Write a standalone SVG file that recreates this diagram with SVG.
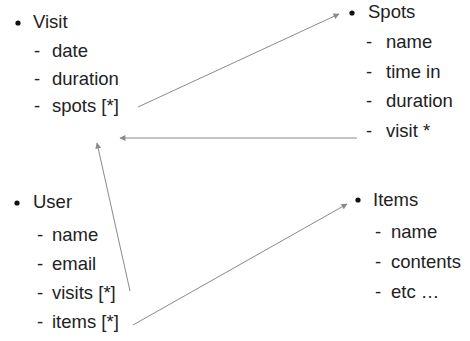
<svg xmlns="http://www.w3.org/2000/svg" width="470" height="341" viewBox="0 0 470 341">
<defs>
<style>
text{font-family:"Liberation Sans",Arial,sans-serif;font-size:18.5px;fill:#222;}
.b{fill:#111;}
.c{stroke:#8a8a8a;stroke-width:1;fill:none;marker-end:url(#ah);}
</style>
<marker id="ah" viewBox="0 0 10 10" refX="9" refY="5" markerWidth="7" markerHeight="6" markerUnits="userSpaceOnUse" orient="auto">
<path d="M0,0 L10,5 L0,10 z" fill="#8a8a8a"/>
</marker>
</defs>
<rect width="470" height="341" fill="#fff"/>
<g id="visit">
<circle class="b" cx="18" cy="23" r="2.6"/>
<text x="33" y="28">Visit</text>
<text x="34" y="57">-</text><text x="52" y="57">date</text>
<text x="34" y="85">-</text><text x="52" y="85">duration</text>
<text x="34" y="112">-</text><text x="52" y="112">spots [*]</text>
</g>
<g id="spots">
<circle class="b" cx="352" cy="13" r="2.6"/>
<text x="368" y="18">Spots</text>
<text x="366" y="48">-</text><text x="386" y="48">name</text>
<text x="366" y="78">-</text><text x="386" y="78">time in</text>
<text x="366" y="107">-</text><text x="386" y="107">duration</text>
<text x="366" y="137">-</text><text x="386" y="137">visit *</text>
</g>
<g id="user">
<circle class="b" cx="17" cy="203" r="2.6"/>
<text x="33" y="208">User</text>
<text x="37" y="241">-</text><text x="52" y="241">name</text>
<text x="37" y="270">-</text><text x="52" y="270">email</text>
<text x="37" y="299">-</text><text x="52" y="299">visits [*]</text>
<text x="37" y="328">-</text><text x="52" y="328">items [*]</text>
</g>
<g id="items">
<circle class="b" cx="358" cy="200" r="2.6"/>
<text x="373" y="206">Items</text>
<text x="375" y="238">-</text><text x="391" y="238">name</text>
<text x="375" y="268">-</text><text x="391" y="268">contents</text>
<text x="375" y="298">-</text><text x="391" y="298">etc …</text>
</g>
<g id="connectors">
<line class="c" x1="138" y1="107" x2="339" y2="14"/>
<line class="c" x1="357" y1="138" x2="120" y2="138"/>
<line class="c" x1="130" y1="291" x2="97" y2="143"/>
<line class="c" x1="133" y1="325" x2="347" y2="204"/>
</g>
</svg>
